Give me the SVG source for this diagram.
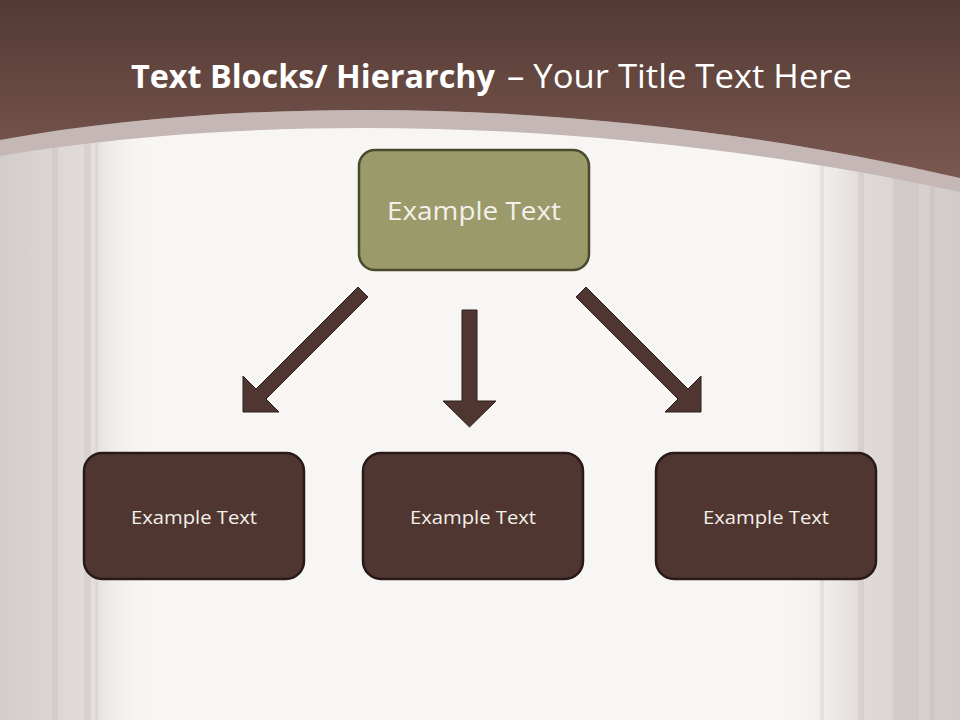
<svg xmlns="http://www.w3.org/2000/svg" width="960" height="720" viewBox="0 0 960 720">
<defs>
<linearGradient id="hdr" x1="0" y1="0" x2="0" y2="1">
<stop offset="0" stop-color="#533a33"/>
<stop offset="1" stop-color="#7a5850"/>
</linearGradient>
<linearGradient id="lside" x1="0" y1="0" x2="1" y2="0">
<stop offset="0" stop-color="#d2cccb"/>
<stop offset="0.6" stop-color="#e2dcda"/>
<stop offset="1" stop-color="#f8f6f5" stop-opacity="0"/>
</linearGradient>
<linearGradient id="rside" x1="1" y1="0" x2="0" y2="0">
<stop offset="0" stop-color="#d0cbca"/>
<stop offset="0.55" stop-color="#e0dad8"/>
<stop offset="1" stop-color="#f8f6f5" stop-opacity="0"/>
</linearGradient>
<style>
.arrow{fill:#4f3630;stroke:#2e1e1a;stroke-width:1}
.box{fill:#4f3631;stroke:#2a1a17;stroke-width:2.5}
.top{fill:#9a9a6a;stroke:#4a4a2e;stroke-width:2.5}
.lbl{font-family:"Open Sans","DejaVu Sans",sans-serif;fill:#f4f0ea;text-anchor:middle}
.stripe{fill:#b9adaa;opacity:0.22}
</style>
</defs>
<rect x="0" y="0" width="960" height="720" fill="#f8f6f5"/>
<rect x="0" y="120" width="150" height="600" fill="url(#lside)"/>
<rect x="780" y="150" width="180" height="570" fill="url(#rside)"/>
<rect class="stripe" x="52" y="130" width="6" height="590"/>
<rect class="stripe" x="84" y="130" width="7" height="590"/>
<rect class="stripe" x="95" y="130" width="3" height="590"/>
<rect class="stripe" x="820" y="160" width="4" height="560"/>
<rect class="stripe" x="858" y="160" width="6" height="560"/>
<rect class="stripe" x="893" y="170" width="26" height="550" opacity="0.15"/>
<rect class="stripe" x="930" y="170" width="5" height="550" opacity="0.15"/>
<path d="M0,140 C250,95 600,95 960,178 L960,192 C600,114 250,114 0,156 Z" fill="#c4b7b5"/>
<path d="M0,0 H960 V178 C600,95 250,95 0,140 Z" fill="url(#hdr)"/>
<text x="131" y="88" font-family="'Open Sans','DejaVu Sans',sans-serif" font-size="33" font-weight="bold" fill="#ffffff" textLength="364" lengthAdjust="spacingAndGlyphs">Text Blocks/ Hierarchy</text>
<text x="507" y="88" font-family="'Open Sans','DejaVu Sans',sans-serif" font-size="33" fill="#ffffff" textLength="345" lengthAdjust="spacingAndGlyphs">– Your Title Text Here</text>
<g id="connectors">
<polygon class="arrow" points="358,287 368,297 266,399 279,412 243,412 243,376 256,389"/>
<polygon class="arrow" points="462,310 477,310 477,401 496,401 469.5,427 443,401 462,401"/>
<polygon class="arrow" points="586,287 576,297 678,399 665,412 701,412 701,376 688,389"/>
</g>
<g id="node-top">
<rect class="top" x="359" y="150" width="230" height="120" rx="16"/>
<text class="lbl" x="474" y="220" font-size="25" textLength="174" lengthAdjust="spacingAndGlyphs">Example Text</text>
</g>
<g id="node-left">
<rect class="box" x="84" y="453" width="220" height="126" rx="18"/>
<text class="lbl" x="194" y="524" font-size="19" textLength="126" lengthAdjust="spacingAndGlyphs">Example Text</text>
</g>
<g id="node-middle">
<rect class="box" x="363" y="453" width="220" height="126" rx="18"/>
<text class="lbl" x="473" y="524" font-size="19" textLength="126" lengthAdjust="spacingAndGlyphs">Example Text</text>
</g>
<g id="node-right">
<rect class="box" x="656" y="453" width="220" height="126" rx="18"/>
<text class="lbl" x="766" y="524" font-size="19" textLength="126" lengthAdjust="spacingAndGlyphs">Example Text</text>
</g>
</svg>
